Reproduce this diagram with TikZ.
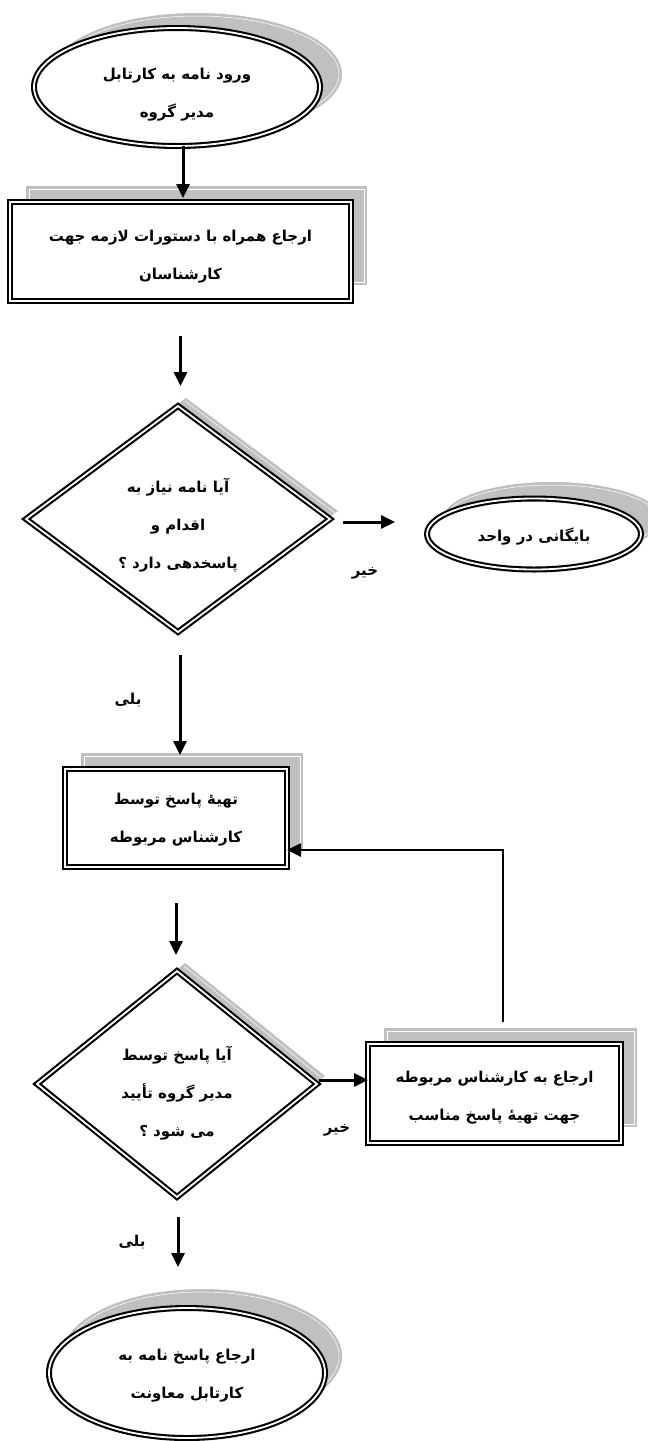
\documentclass[tikz,border=0pt]{standalone}
\usepackage{fontspec}
\newfontfamily\arabicfont[Script=Arabic]{DejaVu Sans}
\TeXXeTstate=1
\usetikzlibrary{shapes.geometric,arrows.meta,calc,backgrounds}
\definecolor{shadowgray}{RGB}{192,192,192}
\begin{document}
\begin{tikzpicture}[x=1pt,y=-1pt,
  txt/.style={font=\arabicfont\bfseries\fontsize{15}{38}\selectfont, align=center, inner sep=0pt},
  frame/.style={draw=black, line width=2.1pt, double=white, double distance=1.8pt, fill=white, inner sep=0pt, outer sep=0pt},
  oval/.style={frame, ellipse},
  boxn/.style={frame, rectangle},
  dia/.style={frame, diamond},
  intext/.style 2 args={label={[txt, yshift=-#1pt]center:{#2}}},
  arr/.style={line width=3pt, -{Triangle[length=14pt,width=13pt]}},
  lbl/.style={font=\arabicfont\bfseries\fontsize{15}{17}\selectfont, inner sep=0pt},
  shadowline/.style={draw=white, line width=0.5pt}
]
\useasboundingbox (0,0) rectangle (648,1441);

% nodes
\node[oval, minimum width=286pt, minimum height=118pt,
  intext={8}{\beginR ورود نامه به کارتابل\endR\\\beginR مدیر گروه\endR}] (e1) at (177,87) {};
\node[boxn, minimum width=341pt, minimum height=99pt,
  intext={5}{\beginR ارجاع همراه با دستورات لازمه جهت\endR\\\beginR کارشناسان\endR}] (b1) at (180.5,251.5) {};
\node[dia, minimum width=304pt, minimum height=226pt,
  intext={6}{\beginR آیا نامه نیاز به\endR\\\beginR اقدام و\endR\\\beginR پاسخدهی دارد ؟\endR}] (d1) at (178,519) {};
\node[oval, minimum width=214pt, minimum height=71pt,
  intext={2}{\beginR بایگانی در واحد\endR}] (e2) at (534,534) {};
\node[boxn, minimum width=222pt, minimum height=98pt,
  intext={2}{\beginR تهیهٔ پاسخ توسط\endR\\\beginR کارشناس مربوطه\endR}] (b3) at (176,818) {};
\node[dia, minimum width=280pt, minimum height=226pt,
  intext={9}{\beginR آیا پاسخ توسط\endR\\\beginR مدیر گروه تأیید\endR\\\beginR می شود ؟\endR}] (d2) at (177,1084) {};
\node[boxn, minimum width=253pt, minimum height=99pt,
  intext={4}{\beginR ارجاع به کارشناس مربوطه\endR\\\beginR جهت تهیهٔ پاسخ مناسب\endR}] (b4) at (494.5,1093.5) {};
\node[oval, minimum width=276pt, minimum height=130pt,
  intext={3}{\beginR ارجاع پاسخ نامه به\endR\\\beginR کارتابل معاونت\endR}] (e3) at (187,1373) {};

% labels
\node[lbl] (no1) at (365,573) {\beginR خیر\endR};
\node[lbl] (yes1) at (128,700) {\beginR بلی\endR};
\node[lbl] (no2) at (337,1130) {\beginR خیر\endR};
\node[lbl] (yes2) at (132,1242) {\beginR بلی\endR};

% shadows
\begin{pgfonlayer}{background}
  \fill[shadowgray] ($(e1.center)+(20,-13)$) ellipse [x radius=145pt, y radius=61pt];
  \draw[shadowline] ($(e1.center)+(20,-13)$) ellipse [x radius=142pt, y radius=58pt];
  \fill[shadowgray] ($(b1.south west)+(16,-16)$) rectangle ($(b1.north east)+(16,-16)$);
  \draw[shadowline] ($(b1.south west)+(19,-19)$) rectangle ($(b1.north east)+(13,-13)$);
  \fill[shadowgray] ($(d1.north)+(8,-8)$) -- ($(d1.east)+(8,-8)$) -- ($(d1.south)+(8,-8)$) -- ($(d1.west)+(8,-8)$) -- cycle;
  \draw[shadowline] ($(d1.north)+(7,-5)$) -- ($(d1.east)+(5,-6)$);
  \fill[shadowgray] ($(e2.center)+(18,-15)$) ellipse [x radius=109pt, y radius=37pt];
  \draw[shadowline] ($(e2.center)+(18,-15)$) ellipse [x radius=106pt, y radius=34pt];
  \fill[shadowgray] ($(b3.south west)+(16,-16)$) rectangle ($(b3.north east)+(16,-16)$);
  \draw[shadowline] ($(b3.south west)+(19,-19)$) rectangle ($(b3.north east)+(13,-13)$);
  \fill[shadowgray] ($(d2.north)+(8,-8)$) -- ($(d2.east)+(8,-8)$) -- ($(d2.south)+(8,-8)$) -- ($(d2.west)+(8,-8)$) -- cycle;
  \draw[shadowline] ($(d2.north)+(7,-5)$) -- ($(d2.east)+(5,-6)$);
  \fill[shadowgray] ($(b4.south west)+(16,-16)$) rectangle ($(b4.north east)+(16,-16)$);
  \draw[shadowline] ($(b4.south west)+(19,-19)$) rectangle ($(b4.north east)+(13,-13)$);
  \fill[shadowgray] ($(e3.center)+(15,-17)$) ellipse [x radius=140pt, y radius=67pt];
  \draw[shadowline] ($(e3.center)+(15,-17)$) ellipse [x radius=137pt, y radius=64pt];
\end{pgfonlayer}

% connectors
\coordinate (a1s) at ($(e1.south)+(6,0)$);
\draw[arr] (a1s) -- ($(a1s |- b1.north)+(0,-4)$);
\coordinate (a2s) at ($(b1.south)+(0,35)$);
\coordinate (a2e) at ($(d1.north)+(0,-20)$);
\draw[arr] (a2s) -- (a2s |- a2e);
\coordinate (a3s) at ($(d1.east)+(13,3)$);
\coordinate (a3e) at ($(e2.west)+(-32,0)$);
\draw[arr] (a3s) -- (a3s -| a3e);
\coordinate (a4s) at ($(d1.south)+(2,23)$);
\coordinate (a4e) at ($(b3.north)+(0,-14)$);
\draw[arr] (a4s) -- (a4s |- a4e);
\coordinate (a5s) at ($(b3.south)+(0,36)$);
\coordinate (a5e) at ($(d2.north)+(0,-16)$);
\draw[arr] (a5s) -- (a5s |- a5e);
\coordinate (a6s) at ($(d2.east)+(2,-4)$);
\draw[arr] (a6s) -- (a6s -| b4.west);
\coordinate (fbs) at ($(b4.north)+(8.5,-22)$);
\coordinate (fbe) at ($(b3.south east)+(0,-17)$);
\draw[arr, line width=2.6pt] (fbs) |- (fbe);
\coordinate (a8s) at ($(d2.south)+(1,20)$);
\coordinate (a8e) at ($(e3.north)+(0,-41)$);
\draw[arr] (a8s) -- (a8s |- a8e);
\end{tikzpicture}
\end{document}
